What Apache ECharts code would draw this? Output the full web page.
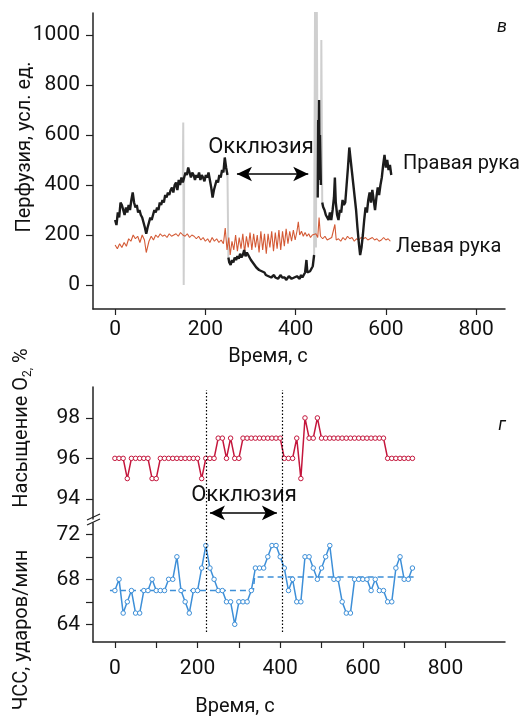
<!DOCTYPE html>
<html><head><meta charset="utf-8">
<script src="https://cdn.jsdelivr.net/npm/echarts@6/dist/echarts.min.js"></script>
<style>html,body{margin:0;padding:0;background:#fff}#c{width:523px;height:716px}</style>
</head><body><div id="c"></div>
<script>
const FONT = 'Roboto, "Liberation Sans", sans-serif';

// ---- axis ticks / labels ----
const perfusionTicks = [0, 200, 400, 600, 800, 1000];
const timeTicksTop = [0, 200, 400, 600, 800];
const timeTicksBottom = [0, 100, 200, 300, 400, 500, 600, 700, 800];
const timeLabelsBottom = [0, 200, 400, 600, 800];
const spo2Ticks = [94, 96, 98];
const hrTicks = [64, 66, 68, 70, 72];
const hrLabels = [64, 68, 72];

// ---- panel в: perfusion, right arm (black), [time s, units] ----
const rightArm = [[0,260],[3,240],[6,290],[9,270],[12,330],[15,320],[18,300],[21,280],[24,310],[27,290],[30,320],[33,300],[36,340],[39,370],[42,330],[45,310],[48,320],[51,290],[54,300],[57,280],[60,270],[63,250],[66,230],[69,205],[72,230],[75,250],[78,270],[81,260],[84,280],[87,300],[90,290],[93,310],[96,300],[99,330],[102,320],[105,340],[108,330],[111,360],[114,350],[117,370],[120,360],[123,380],[126,390],[129,370],[132,400],[135,410],[138,380],[141,420],[144,400],[147,430],[150,410],[153,430],[156,450],[159,440],[162,470],[165,450],[168,430],[171,450],[174,440],[177,420],[180,440],[183,430],[186,450],[189,420],[192,440],[195,430],[198,415],[201,440],[204,430],[207,450],[210,420],[213,390],[216,350],[219,380],[222,400],[225,420],[228,410],[231,440],[234,430],[237,460],[240,450],[243,510],[246,470],[249,440],[250,'-'],[251,110],[253,90],[256,80],[259,100],[262,90],[265,110],[268,100],[271,115],[274,105],[277,125],[280,110],[283,120],[286,140],[289,115],[292,130],[295,120],[298,110],[301,100],[304,95],[307,85],[310,80],[313,70],[316,75],[319,60],[322,65],[325,55],[328,60],[331,50],[334,40],[337,45],[340,35],[343,40],[346,30],[349,35],[352,40],[355,30],[358,35],[361,25],[364,30],[367,40],[370,30],[373,25],[376,30],[379,20],[382,25],[385,35],[388,30],[391,25],[394,20],[397,30],[400,25],[403,35],[406,30],[409,25],[412,40],[415,30],[418,35],[421,50],[424,100],[426,50],[429,45],[432,55],[435,60],[438,75],[441,120],[445,'-'],[449,350],[450,660],[451,500],[452,740],[453,420],[454,600],[456,400],[457,'-'],[459,330],[461,312],[464,300],[467,280],[470,270],[473,260],[476,290],[479,260],[482,300],[485,350],[487,430],[489,330],[492,280],[495,260],[498,300],[501,290],[504,340],[507,320],[510,330],[513,400],[516,470],[519,550],[522,500],[525,450],[528,400],[531,350],[534,300],[537,230],[540,170],[543,120],[546,150],[549,200],[552,260],[555,310],[558,290],[561,340],[564,370],[567,330],[570,380],[573,340],[576,300],[579,350],[582,390],[585,360],[588,400],[591,430],[594,480],[597,520],[600,470],[603,500],[606,460],[609,480],[612,440]];

// artefact spikes of the right-arm trace (drawn light grey)
const rightArmArtifacts = [[150,410],[151,650],[152,0],[153,430],[154,'-'],[249,440],[251,110],[252,'-'],[441,120],[443,1100],[445,150],[447,1100],[449,350],[452,'-'],[456,400],[457,980],[459,330]];

// ---- panel в: perfusion, left arm (red) ----
const leftArm = [[0,160],[5,145],[10,165],[15,150],[20,170],[25,155],[30,185],[35,175],[40,200],[45,185],[50,195],[55,170],[60,200],[65,180],[69,130],[75,175],[80,195],[85,180],[90,200],[95,190],[100,205],[105,195],[110,200],[115,190],[120,205],[125,195],[130,200],[135,205],[140,195],[145,210],[150,200],[155,195],[160,205],[165,190],[170,200],[175,195],[180,185],[185,195],[190,180],[195,190],[200,175],[205,185],[210,170],[215,190],[220,175],[225,185],[230,170],[235,180],[240,165],[244,228],[248,140],[252,190],[255,120],[259,175],[263,140],[267,200],[271,135],[275,190],[279,145],[283,205],[287,130],[291,195],[295,150],[299,210],[303,140],[307,205],[311,150],[315,200],[319,130],[323,215],[327,140],[331,205],[335,125],[339,205],[343,150],[347,215],[351,135],[355,210],[359,145],[363,220],[367,140],[371,215],[375,155],[379,225],[383,165],[387,215],[391,175],[395,220],[399,180],[403,215],[406,253],[409,200],[413,215],[417,195],[421,210],[425,195],[429,205],[433,190],[437,200],[441,195],[445,205],[449,190],[452,270],[455,195],[460,185],[465,195],[470,180],[475,185],[480,190],[484,185],[487,242],[490,180],[495,185],[500,175],[505,190],[510,180],[515,195],[520,185],[525,190],[530,175],[535,185],[540,180],[545,190],[550,185],[555,190],[560,180],[565,185],[570,190],[575,180],[580,185],[585,175],[590,180],[595,190],[600,180],[605,185],[610,175]];

// ---- panel г: SpO2 and heart rate, sampled every 10 s ----
const sampleTimes = [0,10,20,30,40,50,60,70,80,90,100,110,120,130,140,150,160,170,180,190,200,210,220,230,240,250,260,270,280,290,300,310,320,330,340,350,360,370,380,390,400,410,420,430,440,450,460,470,480,490,500,510,520,530,540,550,560,570,580,590,600,610,620,630,640,650,660,670,680,690,700,710,720];
const spo2 = [96,96,96,95,96,96,96,96,96,95,95,96,96,96,96,96,96,96,96,96,96,95,96,96,96,97,97,96,97,96,96,97,97,97,97,97,97,97,97,97,97,96,96,96,97,95,98,97,97,98,97,97,97,97,97,97,97,97,97,97,97,97,97,97,97,97,96,96,96,96,96,96,96];
const hr = [67,68,65,66,67,65,65,67,67,68,67,67,67,68,68,70,67,66,65,67,67,69,71,69,68,67,67,66,66,64,66,66,66,67,69,69,69,70,71,71,70,69,67,68,66,66,70,70,69,68,69,70,71,68,68,66,65,65,68,68,68,68,67,68,67,67,66,66,69,70,68,68,69];
const hrMean = [[-12,67],[335,67],[338,68.2],[726,68.2]];
const occlusionMarks = [220, 405];
const arrowTop = [[270,444],[428,444]];
const arrowBottom = [[230,93.3],[392,93.3]];

const spo2Data = sampleTimes.map((t, i) => [t, spo2[i]]);
const hrData = sampleTimes.map((t, i) => [t, hr[i]]);

const axisCol = '#222';
const lab = (extra) => Object.assign({fontFamily: FONT, fontSize: 21, color: '#111', formatter: v => String(v)}, extra);

const chart = echarts.init(document.getElementById('c'), null, {renderer: 'canvas'});
const txt = (x, y, text, size, extra) => ({type: 'text', x, y, silent: true,
  style: Object.assign({text, fontFamily: FONT, fontSize: size, fill: '#111', textAlign: 'center', textVerticalAlign: 'middle'}, extra || {})});

chart.setOption({
  animation: false,
  backgroundColor: '#fff',
  grid: [
    {left: 93, top: 13, width: 412, height: 296},
    {left: 93, top: 387, width: 412, height: 132},
    {left: 93, top: 523, width: 412, height: 119},
    {left: 93, top: 390, width: 412, height: 242}
  ],
  xAxis: [
    {gridIndex: 0, type: 'value', min: -49, max: 864,
     axisLine: {show: true, onZero: false, lineStyle: {color: axisCol, width: 1.5}},
     axisTick: {show: true, length: 6, customValues: timeTicksTop, lineStyle: {color: axisCol, width: 1.2}},
     axisLabel: lab({customValues: timeTicksTop, margin: 10}), splitLine: {show: false}},
    {gridIndex: 1, type: 'value', min: -53, max: 944, show: false},
    {gridIndex: 2, type: 'value', min: -53, max: 944,
     axisLine: {show: true, onZero: false, lineStyle: {color: axisCol, width: 1.5}},
     axisTick: {show: true, length: 6, customValues: timeTicksBottom, lineStyle: {color: axisCol, width: 1.2}},
     axisLabel: lab({customValues: timeLabelsBottom, margin: 16}), splitLine: {show: false}},
    {gridIndex: 3, type: 'value', min: -53, max: 944, show: false}
  ],
  yAxis: [
    {gridIndex: 0, type: 'value', min: -96, max: 1088,
     axisLine: {show: true, onZero: false, lineStyle: {color: axisCol, width: 1.5}},
     axisTick: {show: true, length: 7, customValues: perfusionTicks, lineStyle: {color: axisCol, width: 1.2}},
     axisLabel: lab({customValues: perfusionTicks, margin: 13}), splitLine: {show: false}},
    {gridIndex: 1, type: 'value', min: 93, max: 99.53,
     axisLine: {show: true, onZero: false, lineStyle: {color: axisCol, width: 1.5}},
     axisTick: {show: true, length: 7, customValues: spo2Ticks, lineStyle: {color: axisCol, width: 1.2}},
     axisLabel: lab({customValues: spo2Ticks, margin: 13}), splitLine: {show: false}},
    {gridIndex: 2, type: 'value', min: 62.43, max: 73,
     axisLine: {show: true, onZero: false, lineStyle: {color: axisCol, width: 1.5}},
     axisTick: {show: true, length: 7, customValues: hrTicks, lineStyle: {color: axisCol, width: 1.2}},
     axisLabel: lab({customValues: hrLabels, margin: 13}), splitLine: {show: false}},
    {gridIndex: 3, type: 'value', min: 0, max: 1, show: false}
  ],
  series: [
    {name: 'artifacts', type: 'line', xAxisIndex: 0, yAxisIndex: 0, data: rightArmArtifacts,
     symbol: 'none', connectNulls: false, silent: true, z: 1,
     lineStyle: {color: '#cfcfcf', width: 2}},
    {name: 'Правая рука', type: 'line', xAxisIndex: 0, yAxisIndex: 0, data: rightArm,
     symbol: 'none', connectNulls: false, silent: true, z: 3,
     lineStyle: {color: '#1c1c1c', width: 2.4}},
    {name: 'Левая рука', type: 'line', xAxisIndex: 0, yAxisIndex: 0, data: leftArm,
     symbol: 'none', silent: true, z: 2,
     lineStyle: {color: '#d45a35', width: 1.1},
     markLine: {silent: true, symbol: ['arrow', 'arrow'], symbolSize: [11, 15],
       label: {show: false}, lineStyle: {color: '#000', width: 1.6, type: 'solid'},
       data: [[{coord: arrowTop[0]}, {coord: arrowTop[1]}]]}},
    {name: 'SpO2', type: 'line', xAxisIndex: 1, yAxisIndex: 1, data: spo2Data,
     symbol: 'circle', symbolSize: 4.5, showAllSymbol: true, silent: true,
     lineStyle: {color: '#c4163c', width: 1.5},
     itemStyle: {color: '#fff', borderColor: '#c4163c', borderWidth: 1},
     markLine: {silent: true, symbol: ['arrow', 'arrow'], symbolSize: [11, 15],
       label: {show: false}, lineStyle: {color: '#000', width: 1.6, type: 'solid'},
       data: [[{coord: arrowBottom[0]}, {coord: arrowBottom[1]}]]}},
    {name: 'HR mean', type: 'line', xAxisIndex: 2, yAxisIndex: 2, data: hrMean,
     symbol: 'none', silent: true,
     lineStyle: {color: '#3d8fd8', width: 1.5, type: [6, 4]}},
    {name: 'HR', type: 'line', xAxisIndex: 2, yAxisIndex: 2, data: hrData,
     symbol: 'circle', symbolSize: 4.5, showAllSymbol: true, silent: true,
     lineStyle: {color: '#3d8fd8', width: 1.5},
     itemStyle: {color: '#fff', borderColor: '#3d8fd8', borderWidth: 1}},
    {name: 'occlusion', type: 'line', xAxisIndex: 3, yAxisIndex: 3, data: [], silent: true,
     markLine: {silent: true, symbol: 'none', label: {show: false},
       lineStyle: {color: '#000', width: 1.2, type: [1.5, 2]},
       data: occlusionMarks.map(v => ({xAxis: v}))}}
  ],
  graphic: [
    txt(502, 27, 'в', 18, {fontStyle: 'italic'}),
    txt(502, 425, 'г', 18, {fontStyle: 'italic'}),
    txt(261, 147, 'Окклюзия', 22),
    txt(244, 495, 'Окклюзия', 22),
    txt(403, 164, 'Правая рука', 20, {textAlign: 'left'}),
    txt(396, 247, 'Левая рука', 20, {textAlign: 'left'}),
    txt(268, 357, 'Время, с', 20),
    txt(235, 707, 'Время, с', 20),
    {type: 'text', x: 25, y: 147, rotation: Math.PI / 2, silent: true,
     style: {text: 'Перфузия, усл. ед.', fontFamily: FONT, fontSize: 20, fill: '#111', textAlign: 'center', textVerticalAlign: 'middle'}},
    {type: 'text', x: 22, y: 428, rotation: Math.PI / 2, silent: true,
     style: {text: '{a|Насыщение O}{b|2,}{a| %}', fontFamily: FONT, fill: '#111', textAlign: 'center', textVerticalAlign: 'middle',
       rich: {a: {fontFamily: FONT, fontSize: 20, fill: '#111', lineHeight: 24}, b: {fontFamily: FONT, fontSize: 12, fill: '#111', verticalAlign: 'bottom', lineHeight: 24}}}},
    {type: 'text', x: 22, y: 630, rotation: Math.PI / 2, silent: true,
     style: {text: 'ЧСС, ударов/мин', fontFamily: FONT, fontSize: 20, fill: '#111', textAlign: 'center', textVerticalAlign: 'middle'}},
    {type: 'line', silent: true, shape: {x1: 87, y1: 520, x2: 100, y2: 514}, style: {stroke: '#222', lineWidth: 1.3}},
    {type: 'line', silent: true, shape: {x1: 87, y1: 525, x2: 100, y2: 519}, style: {stroke: '#222', lineWidth: 1.3}}
  ]
});
</script></body></html>
